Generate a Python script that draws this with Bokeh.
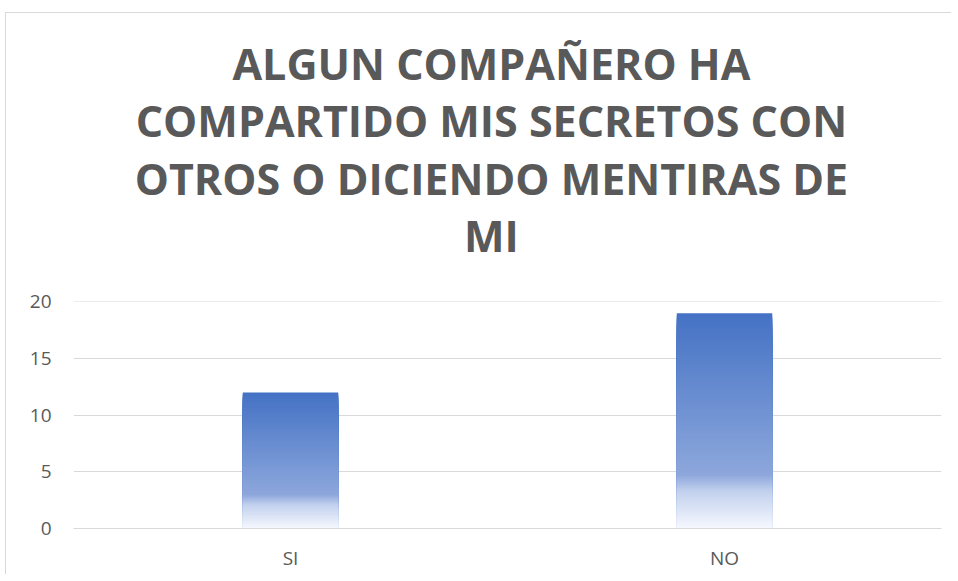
from bokeh.plotting import figure
from bokeh.models import FixedTicker, Range1d
from bokeh.layouts import column
from bokeh.core.properties import value
from bokeh.embed import file_html
from bokeh.resources import INLINE

categories = ["SI", "NO"]
values = [12, 19]
y_ticks = [0, 5, 10, 15, 20]
title_lines = ["ALGUN COMPAÑERO HA",
               "COMPARTIDO MIS SECRETOS CON",
               "OTROS O DICIENDO MENTIRAS DE",
               "MI"]

# gradient stops (t = 0 top of bar, 1 bottom)
stops = [(0.0, (68, 114, 196)), (0.75, (141, 167, 220)),
         (0.83, (195, 210, 238)), (1.0, (246, 248, 253))]


def grad(t):
    for (t0, c0), (t1, c1) in zip(stops[:-1], stops[1:]):
        if t <= t1:
            f = (t - t0) / (t1 - t0) if t1 > t0 else 0
            return "#%02x%02x%02x" % tuple(int(round(a + (b - a) * f)) for a, b in zip(c0, c1))
    return "#%02x%02x%02x" % stops[-1][1]


W = 945
TITLE_H = 273
MAIN_H = 288

# ---- title panel ----
t = figure(width=W, height=TITLE_H, x_range=Range1d(0, W), y_range=Range1d(0, TITLE_H),
           output_backend="svg", toolbar_location=None,
           x_axis_location=None, y_axis_location=None,
           min_border=0, min_border_left=0, min_border_right=0,
           min_border_top=0, min_border_bottom=0)
t.grid.visible = False
t.outline_line_color = None
line_y = [TITLE_H - 49.5, TITLE_H - 106.5, TITLE_H - 164.5, TITLE_H - 221.5]
t.text(x=[455] * len(title_lines), y=line_y, text=title_lines,
       text_align="center", text_baseline="middle",
       text_font=value("Open Sans"), text_font_style="bold",
       text_font_size="43px", text_color="#595959")

# ---- chart ----
Y_END = 20.04
p = figure(x_range=categories, y_range=Range1d(0, Y_END), width=W, height=MAIN_H,
           output_backend="svg", toolbar_location=None,
           min_border_left=67, min_border_right=10, min_border_bottom=46,
           min_border_top=15)

# gradient bars: nested segments from 0 up to a fraction of the value,
# drawn tallest first so shorter (lighter) ones sit on top
N = 90
xs, tops, cols = [], [], []
for cat, v in zip(categories, values):
    for k in range(N - 1, -1, -1):
        xs.append(cat)
        tops.append(v * (k + 1) / N)
        cols.append(grad(1 - (k + 0.5) / N))
p.vbar(x=xs, bottom=0, top=tops, width=0.22, fill_color=cols, line_color=None)

p.outline_line_color = None
p.xgrid.grid_line_color = None
p.ygrid.grid_line_color = "#d9d9d9"
p.ygrid.ticker = FixedTicker(ticks=y_ticks)
p.yaxis.ticker = FixedTicker(ticks=y_ticks)
p.yaxis.axis_line_color = None
p.yaxis.major_tick_line_color = None
p.yaxis.minor_tick_line_color = None
p.yaxis.major_tick_out = 0
p.yaxis.major_tick_in = 0
p.yaxis.major_label_standoff = 22
p.xaxis.axis_line_color = "#d9d9d9"
p.xaxis.major_tick_line_color = None
p.xaxis.major_tick_out = 0
p.xaxis.major_tick_in = 0
p.xaxis.major_label_standoff = 16
for ax in (p.xaxis[0], p.yaxis[0]):
    ax.major_label_text_color = "#595959"
    ax.major_label_text_font = "Open Sans"
    ax.major_label_text_font_size = "19px"

layout = column(t, p, spacing=0)
layout.styles = {"border-top": "1px solid #d9d9d9", "border-left": "1px solid #d9d9d9",
                 "margin-left": "5px", "margin-top": "12px"}

open("out.html", "w").write(file_html(layout, INLINE))
